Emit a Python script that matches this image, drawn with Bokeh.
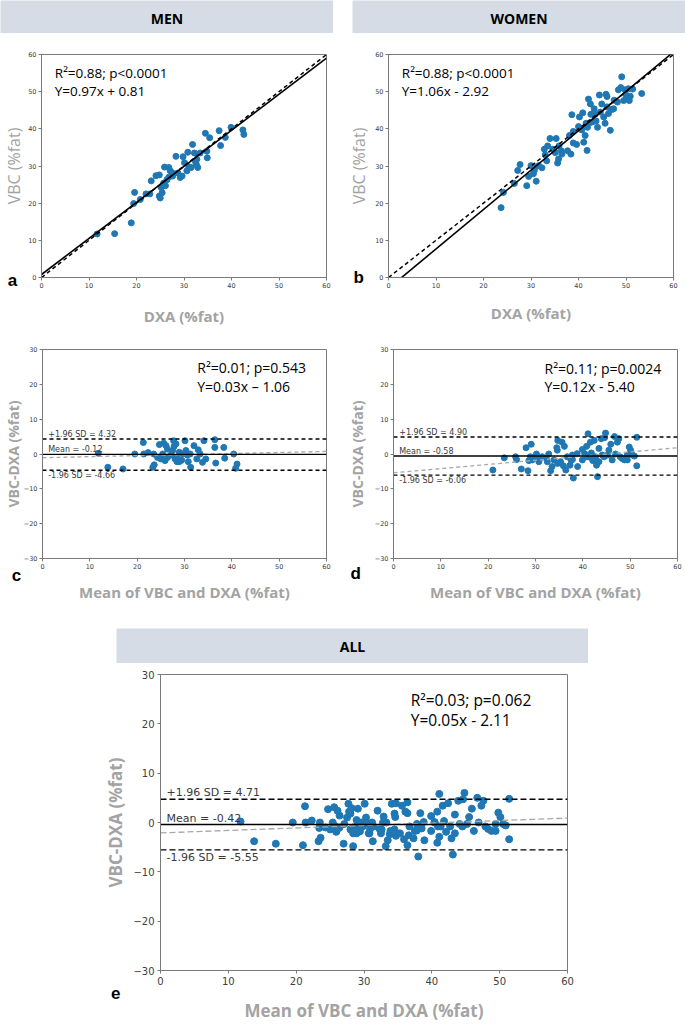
from bokeh.plotting import figure
from bokeh.models import Range1d, Label, Spacer, FixedTicker
from bokeh.layouts import column, row
from bokeh.embed import file_html
from bokeh.resources import INLINE

# ---------------- data ----------------
men_dxa = [11.7, 15.4, 18.9, 19.6, 19.4, 20.8, 22.0, 22.8, 23.1, 24.1, 24.8, 24.8, 25.0, 25.4, 25.2, 25.7, 25.9,
           26.4, 26.1, 26.8, 27.1, 27.5, 27.6, 28.3, 28.7, 29.2, 29.6, 29.8, 30.1, 30.6, 30.8, 31.0, 31.5, 31.8,
           32.2, 32.4, 32.7, 32.9, 33.4, 34.5, 34.8, 34.9, 35.4, 37.4, 37.7, 38.7, 39.9, 42.4, 42.6, 26.8, 32.6]
men_vbc = [11.7, 11.8, 14.7, 22.9, 19.9, 21.0, 22.5, 22.5, 26.0, 27.4, 27.6, 21.9, 21.4, 22.8, 24.2, 25.4, 29.7,
           26.3, 24.7, 29.6, 28.7, 28.2, 27.3, 32.6, 28.1, 26.9, 27.3, 32.5, 30.9, 28.7, 33.7, 29.8, 29.6, 35.8,
           33.5, 31.2, 31.8, 29.6, 33.5, 38.8, 34.0, 32.2, 37.6, 39.5, 35.5, 37.7, 40.4, 39.7, 38.5, 27.0, 30.4]

women_dxa = [23.7, 24.2, 26.5, 27.2, 27.7, 29.1, 29.5, 30.0, 30.5, 30.7, 31.1, 31.6, 32.3, 33.0, 33.3, 33.5, 34.0,
             34.6, 35.3, 35.6, 35.8, 35.9, 36.4, 36.5, 37.7, 38.1, 38.4, 38.6, 38.9, 39.6, 40.0, 40.2, 40.7, 40.9,
             41.1, 41.4, 41.6, 41.8, 41.9, 42.1, 42.5, 42.6, 43.0, 43.3, 43.7, 44.0, 44.4, 44.6, 44.9, 45.3, 45.6,
             45.8, 46.0, 46.3, 46.7, 47.0, 47.4, 48.2, 48.4, 48.9, 49.1, 49.5, 49.8, 50.0, 50.2, 50.5, 50.9, 51.4,
             53.3, 46.0, 47.5, 42.5, 32.8, 35.1, 38.9, 43.5, 50.7, 30.9]
women_vbc = [18.8, 22.9, 25.3, 28.8, 30.4, 24.7, 27.2, 30.1, 27.9, 28.8, 25.9, 30.1, 29.5, 33.0, 31.4, 35.4, 37.4,
             34.5, 37.4, 30.8, 31.9, 35.4, 34.1, 33.2, 34.1, 38.2, 33.2, 43.8, 36.2, 35.8, 40.6, 43.2, 39.7, 44.3,
             36.4, 38.2, 41.5, 34.2, 40.4, 48.0, 46.7, 43.9, 41.9, 45.4, 42.1, 40.4, 49.1, 44.5, 46.7, 43.2, 41.5,
             49.3, 45.9, 44.1, 39.6, 45.2, 45.4, 47.2, 50.5, 51.1, 54.0, 47.6, 50.5, 49.1, 48.3, 50.8, 48.8, 50.7,
             49.5, 48.7, 47.7, 41.7, 34.5, 33.6, 39.3, 43.9, 47.6, 29.7]

men_ba_mean = [11.8, 13.8, 17.0, 19.5, 21.3, 21.4, 22.3, 23.5, 24.7, 25.6, 26.1, 24.3, 25.0, 23.3, 23.6, 25.4, 25.9,
               26.4, 27.1, 27.5, 27.7, 27.8, 28.2, 28.0, 28.4, 28.9, 29.4, 30.1, 30.3, 30.6, 30.8, 31.2, 31.3, 32.0,
               32.6, 32.9, 33.3, 33.8, 34.1, 34.5, 36.4, 36.4, 36.6, 38.3, 38.5, 40.4, 40.8, 41.1, 28.9, 26.4, 29.6,
               28.4]
men_ba_diff = [0.2, -3.8, -4.3, 0.0, 3.3, 0.0, 0.4, 0.0, 2.7, 3.1, 2.4, -1.0, -1.4, -3.8, -3.1, 0.0, -1.9, -1.0,
               -0.3, 1.0, 3.8, 2.2, 2.9, -1.4, -2.2, -2.2, -1.8, 3.8, 1.0, -0.3, -2.2, 0.0, -3.8, 2.4, -1.4, 1.2,
               0.0, -2.4, 3.8, -1.4, 4.1, 1.9, -2.6, 1.9, -1.2, 0.0, -4.1, -2.9, 0.5, 1.4, 0.0, -1.0]

women_ba_mean = [21.0, 23.4, 25.8, 26.0, 27.0, 28.0, 28.4, 29.1, 28.6, 29.3, 29.8, 30.2, 30.7, 30.9, 31.4, 32.3,
                 32.5, 32.8, 33.2, 33.5, 33.9, 34.5, 34.6, 34.7, 35.3, 35.6, 35.9, 36.1, 36.4, 37.3, 37.5, 37.8,
                 38.0, 37.8, 38.9, 39.9, 39.9, 40.4, 40.8, 41.1, 41.3, 41.6, 41.8, 42.1, 42.4, 42.7, 42.9, 43.1,
                 43.4, 43.9, 44.1, 44.5, 44.6, 44.8, 45.2, 45.5, 45.9, 46.2, 46.7, 46.9, 47.3, 47.6, 47.9, 48.3,
                 48.8, 49.4, 49.8, 50.1, 50.5, 50.9, 51.4, 51.4, 49.4, 40.9, 38.8, 34.7, 36.7, 28.9, 43.4]
women_ba_diff = [-4.6, -1.1, -0.8, -1.6, -4.3, 1.8, -4.8, 2.8, -1.9, -1.7, -0.8, 0.0, -2.2, -1.3, -0.8, -1.3,
                 -2.2, 0.0, -4.8, -3.6, -1.7, 1.8, 1.1, -2.7, -2.2, 3.4, -3.4, 2.2, -4.6, -3.2, -1.7, -0.3, -6.9,
                 -1.6, -3.6, 1.3, -1.7, 0.1, 2.2, 5.8, -0.8, 3.4, 0.3, -1.9, 3.9, -0.8, -3.2, -6.5, 1.6, 4.4, -0.3,
                 -0.8, 4.7, 6.0, -0.3, 1.1, 2.8, -1.7, 5.0, 0.0, 3.4, 4.4, -0.8, -1.3, -1.7, -1.7, 2.0, 1.1, -0.3,
                 -0.6, 4.8, -3.4, -0.3, -0.8, 0.1, 3.9, -0.8, -0.8, -2.2]

# regression / agreement statistics (men, women, all)
scatter_slopes = [0.97, 1.06]
scatter_intercepts = [0.81, -2.92]
scatter_stats = ["R²=0.88; p<0.0001", "R²=0.88; p<0.0001"]
scatter_eqs = ["Y=0.97x + 0.81", "Y=1.06x - 2.92"]

ba_slopes = [0.03, 0.12, 0.05]
ba_intercepts = [-1.06, -5.40, -2.11]
ba_means = [-0.12, -0.58, -0.42]
ba_upper = [4.32, 4.90, 4.71]
ba_lower = [-4.66, -6.06, -5.55]
ba_stats = ["R²=0.01; p=0.543", "R²=0.11; p=0.0024", "R²=0.03; p=0.062"]
ba_eqs = ["Y=0.03x – 1.06", "Y=0.12x - 5.40", "Y=0.05x - 2.11"]

x_ticks = [0, 10, 20, 30, 40, 50, 60]
pct_ticks = [0, 10, 20, 30, 40, 50, 60]
diff_ticks = [-30, -20, -10, 0, 10, 20, 30]
line_x = [0, 60]

headers = ["MEN", "WOMEN", "ALL"]
panel_letters = ["a", "b", "c", "d", "e"]

# ---------------- style ----------------
DOT = "#1f77b4"
AX_GRAY = "#a3a3a3"
SPINE = "#7a7a7a"
TICK_TXT = "#404040"
HDR = "#d6dce5"
TXT_FONT = "Open Sans"
TICK_FONT = "DejaVu Sans"


def base_fig(width, height, left, right, top, bottom, yr, y_ticks, tick_size, tick_std,
             y_label, y_size, y_style, y_std, x_label, x_size, x_std):
    p = figure(width=width, height=height, x_range=Range1d(0, 60), y_range=Range1d(*yr),
               toolbar_location=None, output_backend="svg",
               min_border_left=left, min_border_right=right,
               min_border_top=top, min_border_bottom=bottom)
    p.grid.visible = False
    p.outline_line_color = SPINE
    p.outline_line_width = 1
    p.background_fill_color = "white"
    p.border_fill_color = "white"
    p.xaxis.ticker = FixedTicker(ticks=x_ticks)
    p.yaxis.ticker = FixedTicker(ticks=y_ticks)
    p.yaxis.major_label_overrides = {t: ("−" + str(-t)) for t in y_ticks if t < 0}
    for ax in (p.xaxis[0], p.yaxis[0]):
        ax.axis_line_color = SPINE
        ax.major_tick_line_color = SPINE
        ax.major_tick_out = 3
        ax.major_tick_in = 0
        ax.minor_tick_line_color = None
        ax.major_label_text_font = TICK_FONT
        ax.major_label_text_font_size = tick_size
        ax.major_label_text_color = TICK_TXT
        ax.major_label_standoff = tick_std
        ax.axis_label_text_font = TXT_FONT
        ax.axis_label_text_color = AX_GRAY
    p.xaxis.axis_label = x_label
    p.xaxis.axis_label_text_font_size = x_size
    p.xaxis.axis_label_text_font_style = "bold"
    p.xaxis.axis_label_standoff = x_std
    p.yaxis.axis_label = y_label
    p.yaxis.axis_label_text_font_size = y_size
    p.yaxis.axis_label_text_font_style = y_style
    p.yaxis.axis_label_standoff = y_std
    return p


def add_text(p, x, y, text, size, **kw):
    p.add_layout(Label(x=x, y=y, text=text, text_font=TXT_FONT, text_font_size=size,
                       text_color="black", text_baseline="middle", **kw))


def add_letter(p, x, y, text, side):
    # placed in a side panel so that it is not clipped to the plot frame
    p.add_layout(Label(x=x, y=y, text=text, text_font="Liberation Sans", text_font_style="bold",
                       text_font_size="17px", text_color="black", text_align="center",
                       text_baseline="middle"), side)


def header(text, width, height, ty, size="14px"):
    h = figure(width=width, height=height, x_range=Range1d(0, 1), y_range=Range1d(0, 1),
               toolbar_location=None, output_backend="svg", min_border=0,
               x_axis_location=None, y_axis_location=None)
    h.grid.visible = False
    h.outline_line_color = None
    h.background_fill_color = HDR
    h.border_fill_color = HDR
    h.add_layout(Label(x=0.5, y=ty, text=text, text_align="center", text_baseline="middle",
                       text_font=TXT_FONT, text_font_style="bold", text_font_size=size,
                       text_color="black"))
    return h


def scatter_panel(i, dxa, vbc, width, height, left, right, top, bottom, y_std, x_std, letter_xy):
    p = base_fig(width, height, left, right, top, bottom, (0, 60), pct_ticks, "6.5px", 2,
                 "VBC (%fat)", "16px", "normal", y_std, "DXA (%fat)", "15px", x_std)
    p.scatter(dxa, vbc, size=6, color=DOT, line_color=DOT)
    p.line(line_x, line_x, line_color="black", line_width=1.5, line_dash="4 3")
    p.line(line_x, [scatter_slopes[i] * x + scatter_intercepts[i] for x in line_x],
           line_color="black", line_width=1.6)
    add_text(p, 2.8, 55.0, scatter_stats[i], "13.5px")
    add_text(p, 2.8, 50.2, scatter_eqs[i], "13.5px")
    add_letter(p, letter_xy[0], letter_xy[1], panel_letters[i], "above")
    return p


def ba_lines(p, i, lab_size, dash, xl):
    p.line(line_x, [ba_slopes[i] * x + ba_intercepts[i] for x in line_x],
           line_color="#a8a8a8", line_width=1.3, line_dash=dash)
    p.line(line_x, [ba_means[i]] * 2, line_color="black", line_width=1.4)
    p.line(line_x, [ba_upper[i]] * 2, line_color="black", line_width=1.4, line_dash=dash)
    p.line(line_x, [ba_lower[i]] * 2, line_color="black", line_width=1.4, line_dash=dash)
    common = dict(text_font=TICK_FONT, text_font_size=lab_size, text_color="#3a3a3a")
    p.add_layout(Label(x=xl, y=ba_upper[i], text=f"+1.96 SD = {ba_upper[i]:.2f}",
                       text_baseline="bottom", y_offset=0, **common))
    p.add_layout(Label(x=xl, y=ba_means[i], text=f"Mean = {ba_means[i]:.2f}",
                       text_baseline="bottom", y_offset=0, **common))
    p.add_layout(Label(x=xl, y=ba_lower[i], text=f"-1.96 SD = {ba_lower[i]:.2f}",
                       text_baseline="top", y_offset=-1, **common))


def ba_panel(i, means, diffs, width, height, left, right, top, bottom, y_std, x_std, stat_xy, letter_xy):
    p = base_fig(width, height, left, right, top, bottom, (-30, 30), diff_ticks, "6.5px", 2,
                 "VBC-DXA (%fat)", "14px", "bold", y_std, "Mean of VBC and DXA (%fat)", "15px", x_std)
    p.scatter(means, diffs, size=6, color=DOT, line_color=DOT)
    ba_lines(p, i, "8px", "4 3", 1.2)
    add_text(p, stat_xy[0], stat_xy[1], ba_stats[i], "14px")
    add_text(p, stat_xy[0], stat_xy[1] - 5.2, ba_eqs[i], "14px")
    add_letter(p, letter_xy[0], letter_xy[1], panel_letters[i + 2], "above")
    return p


# ---------------- panels ----------------
pa = scatter_panel(0, men_dxa, men_vbc, 343, 295, 41, 17, 20, 48, 0, 15, (-6.1, -0.8))
pb = scatter_panel(1, women_dxa, women_vbc, 342, 295, 45, 12, 21, 45, 2, 12, (-6.3, 0.0))

pc = ba_panel(0, men_ba_mean, men_ba_diff, 343, 290, 41, 17, 20, 60, -2, 10, (32.7, 24.7), (-5.5, -34.9))
pd = ba_panel(1, women_ba_mean, women_ba_diff, 342, 290, 50, 8, 21, 56, 5, 10, (31.9, 24.6), (-8.0, -34.2))

pe = base_fig(600, 361, 160, 33, 11, 52, (-30, 30), diff_ticks, "10px", 3,
              "VBC-DXA (%fat)", "17px", "bold", 3, "Mean of VBC and DXA (%fat)", "17px", 11)
pe.scatter(men_ba_mean + women_ba_mean, men_ba_diff + women_ba_diff, size=7, color=DOT, line_color=DOT)
ba_lines(pe, 2, "11px", "6 3", 0.9)
add_text(pe, 36.9, 24.8, ba_stats[2], "15.5px")
add_text(pe, 36.9, 20.7, ba_eqs[2], "15.5px")
add_letter(pe, -6.6, -34.6, panel_letters[4], "left")

h_men = header(headers[0], 333, 33, 0.46)
h_women = header(headers[1], 333, 33, 0.46)
h_all = header(headers[2], 472, 35, 0.49)

layout = column(
    row(h_men, Spacer(width=19, height=33), h_women),
    row(pa, pb),
    row(pc, pd),
    Spacer(width=10, height=10),
    row(Spacer(width=116, height=35), h_all),
    pe,
)

open("out.html", "w").write(file_html(layout, INLINE))
